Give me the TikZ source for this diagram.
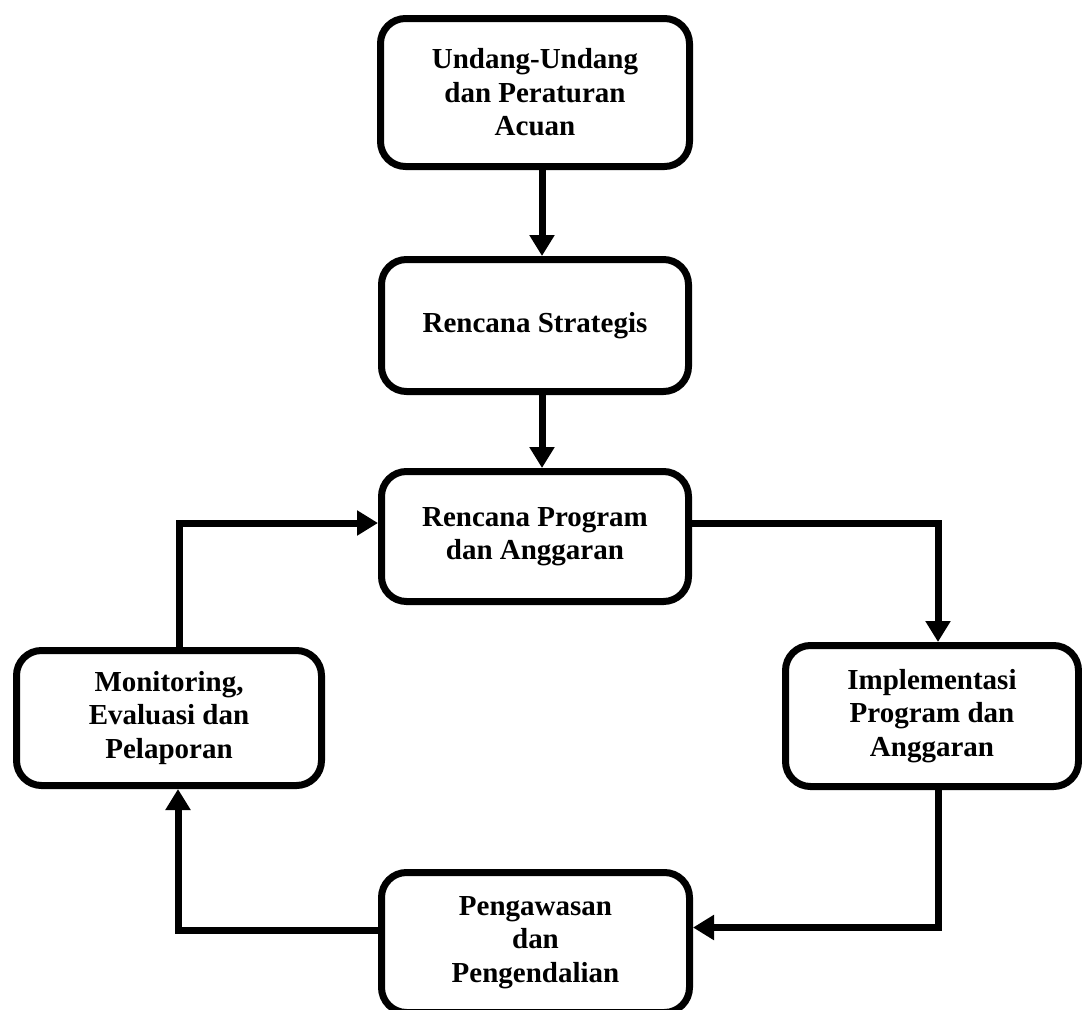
\documentclass[tikz,border=0pt]{standalone}
\usepackage{fontspec}
\setmainfont{Liberation Serif}
\usepackage{tikz}
\usetikzlibrary{arrows.meta}
\tikzset{
  flownode/.style = {align=center, inner sep=0pt, text centered, font=\fontsize{16.5}{19}\selectfont\bfseries},
  fbox/.style = {flownode, rectangle, rounded corners=0.5cm, draw=black, line width=0.14cm, fill=white},
  flowline/.style = {line width=0.14cm, -{Triangle[length=0.42cm,width=0.48cm]}},
}
\begin{document}
\begin{tikzpicture}
\useasboundingbox (0,0) rectangle (21.64,-20.2);
\node [fbox, minimum width=6.18cm, minimum height=2.96cm] (uu) at (10.70,-1.85) {Undang-Undang\\dan Peraturan\\Acuan};
\node [fbox, minimum width=6.14cm, minimum height=2.64cm] (renstra) at (10.70,-6.51) {Rencana Strategis};
\node [fbox, minimum width=6.14cm, minimum height=2.60cm] (rpa) at (10.70,-10.73) {Rencana Program\\dan Anggaran};
\node [fbox, minimum width=6.10cm, minimum height=2.70cm] (monev) at (3.38,-14.36) {Monitoring,\\Evaluasi dan\\Pelaporan};
\node [fbox, minimum width=5.86cm, minimum height=2.82cm] (impl) at (18.64,-14.32) {Implementasi\\Program dan\\Anggaran};
\node [fbox, minimum width=6.16cm, minimum height=2.80cm] (awas) at (10.71,-18.85) {Pengawasan\\dan\\Pengendalian};

\draw [flowline] ([xshift=0.14cm]uu.south) -- ([xshift=0.14cm]renstra.north);
\draw [flowline] ([xshift=0.14cm]renstra.south) -- ([xshift=0.14cm]rpa.north);
\draw [flowline] ([yshift=0.27cm]rpa.east) -| ([xshift=0.12cm]impl.north);
\draw [flowline] ([xshift=0.12cm]impl.south) |- ([yshift=0.3cm]awas.east);
\draw [flowline] ([yshift=0.24cm]awas.west) -| ([xshift=0.18cm]monev.south);
\draw [flowline] ([xshift=0.2cm]monev.north) |- ([yshift=0.27cm]rpa.west);
\end{tikzpicture}
\end{document}
